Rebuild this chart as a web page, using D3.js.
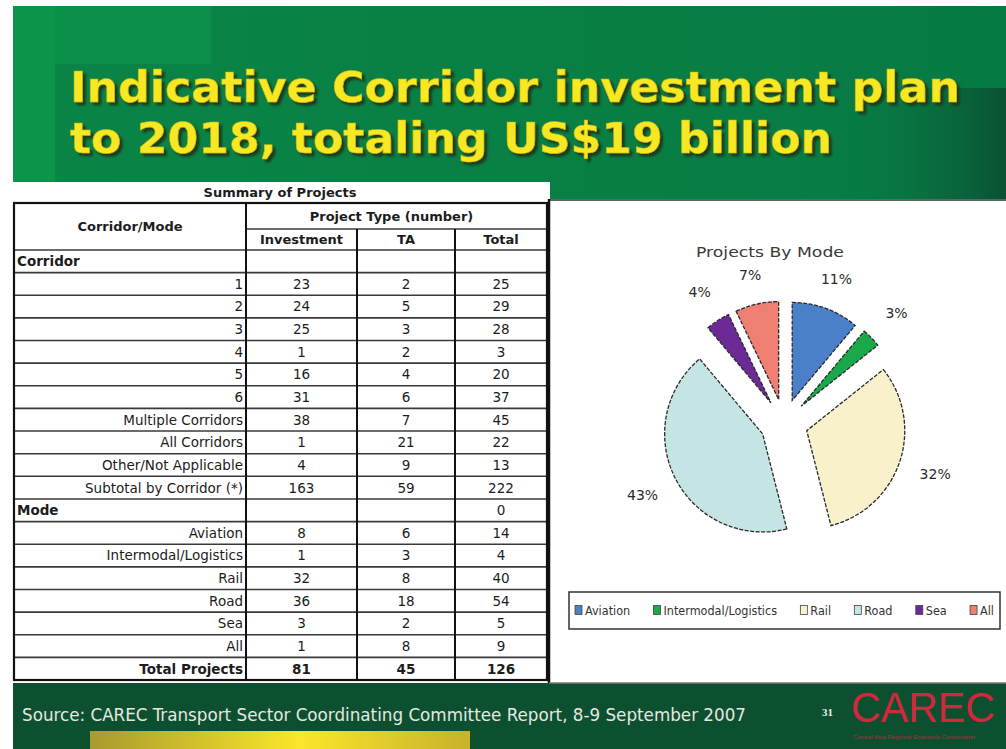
<!DOCTYPE html>
<html>
<head>
<meta charset="utf-8">
<script src="https://cdn.jsdelivr.net/npm/d3@7"></script>
<style>
  body { margin: 0; background: #fff; }
  svg { display: block; }
</style>
</head>
<body>
<div id="slide"></div>
<script>
// table data
const rowLabels = ["Corridor", "1", "2", "3", "4", "5", "6", "Multiple Corridors", "All Corridors",
  "Other/Not Applicable", "Subtotal by Corridor (*)", "Mode", "Aviation", "Intermodal/Logistics",
  "Rail", "Road", "Sea", "All", "Total Projects"];
const investment = [null, 23, 24, 25, 1, 16, 31, 38, 1, 4, 163, null, 8, 1, 32, 36, 3, 1, 81];
const taCounts   = [null, 2, 5, 3, 2, 4, 6, 7, 21, 9, 59, null, 6, 3, 8, 18, 2, 8, 45];
const totals     = [null, 25, 29, 28, 3, 20, 37, 45, 22, 13, 222, 0, 14, 4, 40, 54, 5, 9, 126];
const columnHeads = ["Investment", "TA", "Total"];

// pie data
const modes = ["Aviation", "Intermodal/Logistics", "Rail", "Road", "Sea", "All"];
const modeTotals = [14, 4, 40, 54, 5, 9];
const modeColors = ["#4a7fc9", "#19a84a", "#f9f1cc", "#c5e4e4", "#6b2a96", "#f07f73"];

const W = 1006, H = 749;
const svg = d3.select("#slide").append("svg")
    .attr("width", W).attr("height", H)
    .attr("viewBox", [0, 0, W, H]);
const defs = svg.append("defs");

// ---- background ----
const gHead = defs.append("linearGradient").attr("id", "headGrad")
    .attr("x1", 0).attr("y1", 0).attr("x2", 1).attr("y2", 0);
gHead.append("stop").attr("offset", 0).attr("stop-color", "#0a8546");
gHead.append("stop").attr("offset", 1).attr("stop-color", "#077a44");

const gDark = defs.append("linearGradient").attr("id", "darkGrad")
    .attr("x1", 0).attr("y1", 0).attr("x2", 1).attr("y2", 0);
gDark.append("stop").attr("offset", 0).attr("stop-color", "#077a44").attr("stop-opacity", 0);
gDark.append("stop").attr("offset", 1).attr("stop-color", "#0a5232");

const gBar = defs.append("linearGradient").attr("id", "barGrad")
    .attr("x1", 0).attr("y1", 0).attr("x2", 1).attr("y2", 0);
gBar.append("stop").attr("offset", 0).attr("stop-color", "#a89a2e");
gBar.append("stop").attr("offset", 0.55).attr("stop-color", "#fbe62a");
gBar.append("stop").attr("offset", 1).attr("stop-color", "#c9b12c");

const shadow = defs.append("filter").attr("id", "titleShadow")
    .attr("x", "-5%").attr("y", "-20%").attr("width", "110%").attr("height", "150%");
shadow.append("feDropShadow")
    .attr("dx", 3).attr("dy", 3).attr("stdDeviation", 0.8)
    .attr("flood-color", "#1f3512").attr("flood-opacity", 0.9);

svg.append("rect").attr("x", 13).attr("y", 6).attr("width", W - 13).attr("height", 200)
    .attr("fill", "url(#headGrad)");
svg.append("rect").attr("x", 13).attr("y", 6).attr("width", 42).attr("height", 180)
    .attr("fill", "#0b944a");
svg.append("rect").attr("x", 55).attr("y", 6).attr("width", 156).attr("height", 58)
    .attr("fill", "#0a8f49");
svg.append("rect").attr("x", 830).attr("y", 88).attr("width", W - 830).attr("height", 112)
    .attr("fill", "url(#darkGrad)");

// title
const titleLines = [
  { text: "Indicative Corridor investment plan", y: 102, len: 890 },
  { text: "to 2018, totaling US$19 billion", y: 153, len: 762 }
];
svg.append("g")
    .attr("font-family", "'DejaVu Sans Condensed', 'DejaVu Sans', sans-serif")
    .attr("font-weight", "bold")
    .attr("font-size", 43)
    .attr("filter", "url(#titleShadow)")
  .selectAll("text")
  .data(titleLines)
  .join("text")
    .attr("x", 70).attr("y", d => d.y)
    .attr("textLength", d => d.len).attr("lengthAdjust", "spacingAndGlyphs")
    .attr("fill", "#f6e824")
    .attr("stroke", "#c8b010").attr("stroke-width", 0.5)
    .text(d => d.text);

// footer
svg.append("rect").attr("x", 13).attr("y", 683).attr("width", W - 13).attr("height", H - 683)
    .attr("fill", "#0d5030");
svg.append("rect").attr("x", 90).attr("y", 731).attr("width", 380).attr("height", H - 731)
    .attr("fill", "url(#barGrad)");
svg.append("text")
    .attr("x", 22).attr("y", 721)
    .attr("font-family", "'DejaVu Sans Condensed', 'DejaVu Sans', sans-serif")
    .attr("font-size", 17)
    .attr("textLength", 724).attr("lengthAdjust", "spacingAndGlyphs")
    .attr("fill", "#e4e8e0")
    .text("Source: CAREC Transport Sector Coordinating Committee Report, 8-9 September 2007");
svg.append("text")
    .attr("x", 822).attr("y", 716)
    .attr("font-family", "'Liberation Serif', serif").attr("font-weight", "bold")
    .attr("font-size", 11).attr("fill", "#e8efe8")
    .text("31");
svg.append("text")
    .attr("x", 851).attr("y", 722)
    .attr("font-family", "'Liberation Sans', Arial, sans-serif")
    .attr("font-size", 42)
    .attr("textLength", 144).attr("lengthAdjust", "spacingAndGlyphs")
    .attr("fill", "#d3273d")
    .text("CAREC");
svg.append("text")
    .attr("x", 853).attr("y", 739)
    .attr("font-family", "'Liberation Sans', Arial, sans-serif")
    .attr("font-size", 5)
    .attr("textLength", 122).attr("lengthAdjust", "spacingAndGlyphs")
    .attr("fill", "#a8303a")
    .text("Central Asia Regional Economic Cooperation");

// ---- table panel ----
svg.append("rect").attr("x", 13).attr("y", 182).attr("width", 537).attr("height", 501)
    .attr("fill", "#fff");

const colEdges = [14, 246, 357, 455, 547];
const tableTop = 203, subHead = 229, bodyTop = 250, bodyBottom = 680;
const y = d3.scaleBand()
    .domain(d3.range(rowLabels.length))
    .range([bodyTop, bodyBottom]);
const colMid = i => (colEdges[i] + colEdges[i + 1]) / 2;
const isSection = l => l === "Corridor" || l === "Mode";

const table = svg.append("g")
    .attr("font-family", "'DejaVu Sans', Verdana, sans-serif")
    .attr("font-size", 13.5)
    .attr("fill", "#1c1c1c");

table.append("text")
    .attr("x", 280).attr("y", 192).attr("dy", "0.35em")
    .attr("text-anchor", "middle").attr("font-weight", "bold").attr("font-size", 13)
    .text("Summary of Projects");

// grid lines
const lines = table.append("g").attr("stroke", "#3a3a3a").attr("fill", "none");
lines.selectAll("line.row")
  .data(d3.range(1, rowLabels.length))
  .join("line")
    .attr("class", "row")
    .attr("x1", colEdges[0]).attr("x2", colEdges[4])
    .attr("y1", i => y(i)).attr("y2", i => y(i))
    .attr("stroke-width", 1.6);
lines.append("line")
    .attr("x1", colEdges[0]).attr("x2", colEdges[4])
    .attr("y1", bodyTop).attr("y2", bodyTop).attr("stroke-width", 1.6);
lines.append("line")
    .attr("x1", colEdges[1]).attr("x2", colEdges[4])
    .attr("y1", subHead).attr("y2", subHead).attr("stroke-width", 1.6);
lines.selectAll("line.col")
  .data([1, 2, 3])
  .join("line")
    .attr("class", "col")
    .attr("x1", i => colEdges[i]).attr("x2", i => colEdges[i])
    .attr("y1", i => i === 1 ? tableTop : subHead).attr("y2", bodyBottom)
    .attr("stroke", "#111").attr("stroke-width", 2);
lines.append("rect")
    .attr("x", colEdges[0]).attr("y", tableTop)
    .attr("width", colEdges[4] - colEdges[0]).attr("height", bodyBottom - tableTop)
    .attr("stroke", "#111").attr("stroke-width", 2.2);

// headers
table.append("text")
    .attr("x", colMid(0)).attr("y", (tableTop + bodyTop) / 2).attr("dy", "0.35em")
    .attr("text-anchor", "middle").attr("font-weight", "bold").attr("font-size", 13)
    .text("Corridor/Mode");
table.append("text")
    .attr("x", (colEdges[1] + colEdges[4]) / 2 - 5).attr("y", (tableTop + subHead) / 2).attr("dy", "0.35em")
    .attr("text-anchor", "middle").attr("font-weight", "bold").attr("font-size", 13)
    .text("Project Type (number)");
table.selectAll("text.colhead")
  .data(columnHeads)
  .join("text")
    .attr("class", "colhead")
    .attr("x", (d, i) => colMid(i + 1)).attr("y", (subHead + bodyTop) / 2).attr("dy", "0.35em")
    .attr("text-anchor", "middle").attr("font-weight", "bold").attr("font-size", 13)
    .text(d => d);

// body
const rows = table.selectAll("g.tr")
  .data(rowLabels.map((label, i) => ({ label, i, vals: [investment[i], taCounts[i], totals[i]] })))
  .join("g")
    .attr("class", "tr")
    .attr("transform", d => `translate(0,${y(d.i) + y.bandwidth() / 2})`)
    .attr("font-weight", d => d.label === "Total Projects" ? "bold" : null);
rows.append("text")
    .attr("dy", "0.36em")
    .attr("x", d => isSection(d.label) ? colEdges[0] + 3 : colEdges[1] - 3)
    .attr("text-anchor", d => isSection(d.label) ? "start" : "end")
    .attr("font-weight", d => isSection(d.label) ? "bold" : null)
    .text(d => d.label);
rows.selectAll("text.val")
  .data(d => d.vals)
  .join("text")
    .attr("class", "val")
    .attr("dy", "0.36em")
    .attr("x", (v, j) => colMid(j + 1))
    .attr("text-anchor", "middle")
    .text(v => v === null ? "" : v);

// ---- pie panel ----
svg.append("rect").attr("x", 549).attr("y", 200).attr("width", W - 549).attr("height", 483)
    .attr("fill", "#fff");
svg.append("line").attr("x1", 549).attr("x2", W).attr("y1", 200).attr("y2", 200)
    .attr("stroke", "#5a6a60").attr("stroke-width", 2);
svg.append("line").attr("x1", 549).attr("x2", 549).attr("y1", 199).attr("y2", 683)
    .attr("stroke", "#111").attr("stroke-width", 2.5);
svg.append("line").attr("x1", 549).attr("x2", W).attr("y1", 683).attr("y2", 683)
    .attr("stroke", "#777").attr("stroke-width", 1.5);

const cx = 784, cy = 423, radius = 98, explode = 24;
const pie = d3.pie().sort(null).value(d => d);
const arcs = pie(modeTotals);
const arc = d3.arc().innerRadius(0).outerRadius(radius);
const sum = d3.sum(modeTotals);
const pct = d3.format(".0%");
const mid = d => (d.startAngle + d.endAngle) / 2;

const pieG = svg.append("g").attr("transform", `translate(${cx},${cy})`);
pieG.selectAll("path")
  .data(arcs)
  .join("path")
    .attr("transform", d => `translate(${Math.sin(mid(d)) * explode},${-Math.cos(mid(d)) * explode})`)
    .attr("d", arc)
    .attr("fill", (d, i) => modeColors[i])
    .attr("stroke", "#2a2a2a")
    .attr("stroke-width", 1.3)
    .attr("stroke-dasharray", "4,1.5");

pieG.selectAll("text.pct")
  .data(arcs)
  .join("text")
    .attr("class", "pct")
    .attr("x", d => Math.sin(mid(d)) * (150 + Math.abs(Math.sin(mid(d))) * 10))
    .attr("y", d => -Math.cos(mid(d)) * (150 + Math.abs(Math.sin(mid(d))) * 10))
    .attr("dy", "0.35em")
    .attr("text-anchor", "middle")
    .attr("font-family", "'DejaVu Sans', sans-serif")
    .attr("font-size", 14)
    .attr("fill", "#2a2a2a")
    .text(d => pct(d.data / sum));

svg.append("text")
    .attr("x", 770).attr("y", 252).attr("dy", "0.35em")
    .attr("text-anchor", "middle")
    .attr("font-family", "'DejaVu Sans', sans-serif")
    .attr("font-size", 14)
    .attr("textLength", 148).attr("lengthAdjust", "spacingAndGlyphs")
    .attr("fill", "#3a3a3a")
    .text("Projects By Mode");

// legend
const legX = 569, legY = 592, legW = 431, legH = 37;
const legend = svg.append("g");
legend.append("rect")
    .attr("x", legX).attr("y", legY).attr("width", legW).attr("height", legH)
    .attr("fill", "#fff").attr("stroke", "#333").attr("stroke-width", 1.5);
const items = legend.selectAll("g.item")
  .data(modes)
  .join("g")
    .attr("class", "item");
items.append("rect")
    .attr("width", 7).attr("height", 9).attr("y", -5)
    .attr("fill", (d, i) => modeColors[i])
    .attr("stroke", "#444").attr("stroke-width", 0.8);
items.append("text")
    .attr("x", 10).attr("dy", "0.35em")
    .attr("font-family", "'DejaVu Sans Condensed', 'DejaVu Sans', sans-serif")
    .attr("font-size", 12.5)
    .attr("fill", "#333")
    .text(d => d);
// spread the items across the box
const widths = items.nodes().map(n => 10 + n.querySelector("text").getComputedTextLength());
const gap = (legW - 12 - d3.sum(widths)) / (modes.length - 1);
let xPos = legX + 6;
items.attr("transform", (d, i) => {
  const t = `translate(${xPos},${legY + legH / 2})`;
  xPos += widths[i] + gap;
  return t;
});
</script>
</body>
</html>
